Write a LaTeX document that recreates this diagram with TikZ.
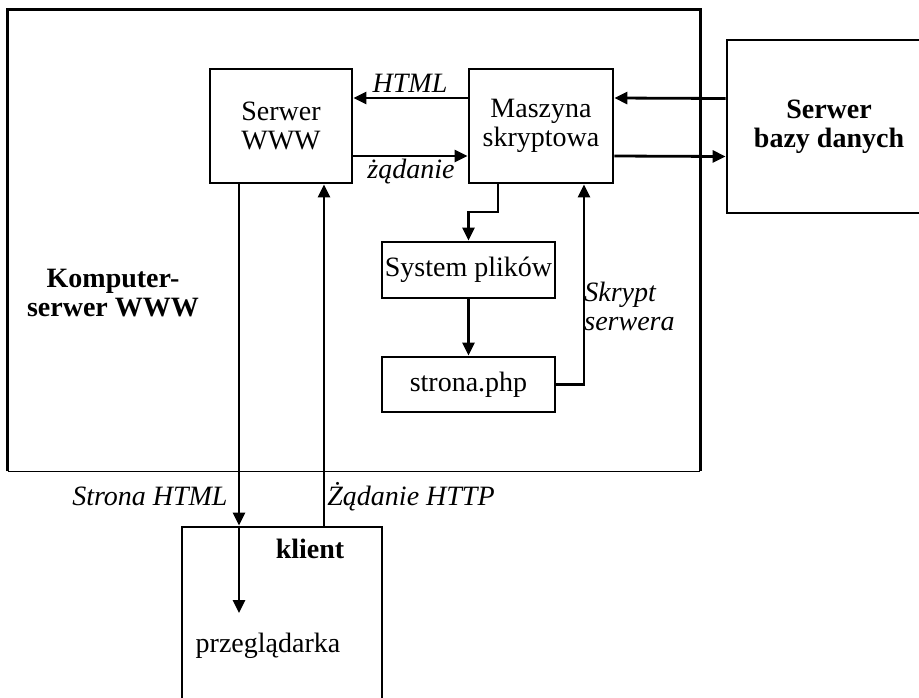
\documentclass[tikz,border=0pt]{standalone}
\usepackage{fontspec}
\setmainfont{Liberation Serif}
\usetikzlibrary{arrows.meta}

\begin{document}
\begin{tikzpicture}[
    x=1pt, y=-1pt, % coordinates in points, y grows downwards
    line width=2.8pt,
    >={Triangle[length=13pt,width=12pt]}, % filled arrow tips
    every node/.style={font=\fontsize{28}{29}\selectfont},
    box/.style={draw, rectangle, align=center, inner sep=0pt},
    bold/.style={font=\fontsize{28}{29}\selectfont\bfseries, align=center},
    lbl/.style={font=\fontsize{28}{29}\selectfont\itshape, inner sep=1pt}
]
\path[use as bounding box, clip] (0,0) rectangle (919,697);

% The server machine
\node[box, draw=none, minimum width=690pt, minimum height=459pt] (komputer) at (354,240.5) {};
\draw (komputer.south west) -- (komputer.north west) -- (komputer.north east) -- (komputer.south east);
\draw[line width=1.2pt] (komputer.south west) -- (komputer.south east);
\node[bold] (komputerLbl) at (113,293) {Komputer-\\serwer WWW};

% Define the boxes
\node[box, minimum width=142pt, minimum height=114pt] (www) at (281,126) {Serwer\\WWW};
\node[box, minimum width=144pt, minimum height=114pt] (maszyna) at (541,126) {Maszyna\\skryptowa};
\node[box, bold, minimum width=204pt, minimum height=173pt] (baza) at (829,126.5) {Serwer\\bazy danych};
\node[box, minimum width=173pt, minimum height=56pt] (pliki) at (468.5,270) {System plików};
\node[box, minimum width=173pt, minimum height=55pt] (strona) at (468.5,384.5) {strona.php};
\node[box, minimum width=200pt, minimum height=183pt] (klient) at (282,618.5) {};
\node[bold, anchor=base] (klientLbl) at (310,558) {klient};
\node[anchor=base] (przegladarka) at (268,652) {przeglądarka};

% Define the arrows
\draw[->] ([yshift=28pt]maszyna.west) -- ([yshift=28pt]www.east);
\draw[->] ([yshift=-30pt]www.east) -- ([yshift=-30pt]maszyna.west);
\draw[->] ([yshift=28pt]baza.west) -- ([yshift=28pt]maszyna.east);
\draw[->] ([yshift=-30pt]maszyna.east) -- ([yshift=-30pt]baza.west);

\coordinate (zakret) at (498,212);
\draw[->] (maszyna.south -| zakret) -- (zakret) -| (pliki.north);
\draw[->] (pliki) -- (strona);
\draw[->] (strona.east) -| ([xshift=43pt]maszyna.south);

\coordinate (przegl) at (239,613);
\draw[->] ([xshift=-42pt]www.south) -- ([xshift=-43pt]klient.north);
\draw[->] ([xshift=-43pt]klient.north) -- (przegl);
\draw[->] ([xshift=42pt]klient.north) -- ([xshift=43pt]www.south);

% Arrow labels
\node[lbl, anchor=base] (html) at (410,92) {HTML};
\node[lbl, anchor=base] (zadanie) at (411,178) {żądanie};
\node[lbl, anchor=west, align=left] (skrypt) at (582,306) {Skrypt\\serwera};
\node[lbl, anchor=base east] (stronaHtml) at (230,505) {Strona HTML};
\node[lbl, anchor=base west] (zadanieHttp) at (325,505) {Żądanie HTTP};

\end{tikzpicture}
\end{document}
